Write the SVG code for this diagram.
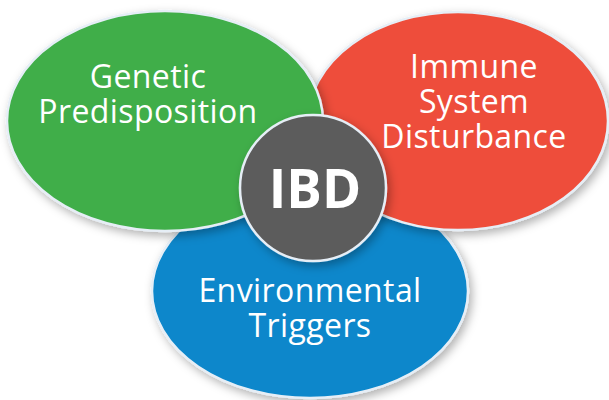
<svg xmlns="http://www.w3.org/2000/svg" width="609" height="400" viewBox="0 0 609 400">
<defs>
<filter id="sh" x="-20%" y="-20%" width="140%" height="140%">
<feDropShadow dx="3" dy="4" stdDeviation="5" flood-color="#000" flood-opacity="0.3"/>
</filter>
</defs>
<style>
.e{stroke:#e6eef6;stroke-width:2.5;filter:url(#sh)}
.t{font-family:"Open Sans",Lato,sans-serif;font-size:32px;letter-spacing:0.4px;fill:#fff;text-anchor:middle;font-variant-ligatures:none}
.b{font-family:"Open Sans",Lato,sans-serif;font-size:53px;font-weight:bold;fill:#fff;text-anchor:middle}
</style>
<rect width="609" height="400" fill="#fff"/>
<g id="environmental">
<ellipse class="e" cx="310" cy="291" rx="158" ry="107" fill="#0a87cb"/>
<text class="t" x="310" y="302">Environmental</text>
<text class="t" x="310" y="337">Triggers</text>
</g>
<g id="immune">
<ellipse class="e" cx="458" cy="121" rx="150" ry="109" fill="#ee4e3a"/>
<text class="t" x="474" y="78">Immune</text>
<text class="t" x="474" y="113">System</text>
<text class="t" x="474" y="148">Disturbance</text>
</g>
<g id="genetic">
<ellipse class="e" cx="165" cy="121" rx="158" ry="110" fill="#3fae49"/>
<text class="t" x="148" y="88">Genetic</text>
<text class="t" x="148" y="123">Predisposition</text>
</g>
<g id="ibd">
<circle class="e" cx="313" cy="188" r="73" fill="#5c5c5c"/>
<text class="b" x="315" y="208">IBD</text>
</g>
<g id="connectors"></g>
</svg>
